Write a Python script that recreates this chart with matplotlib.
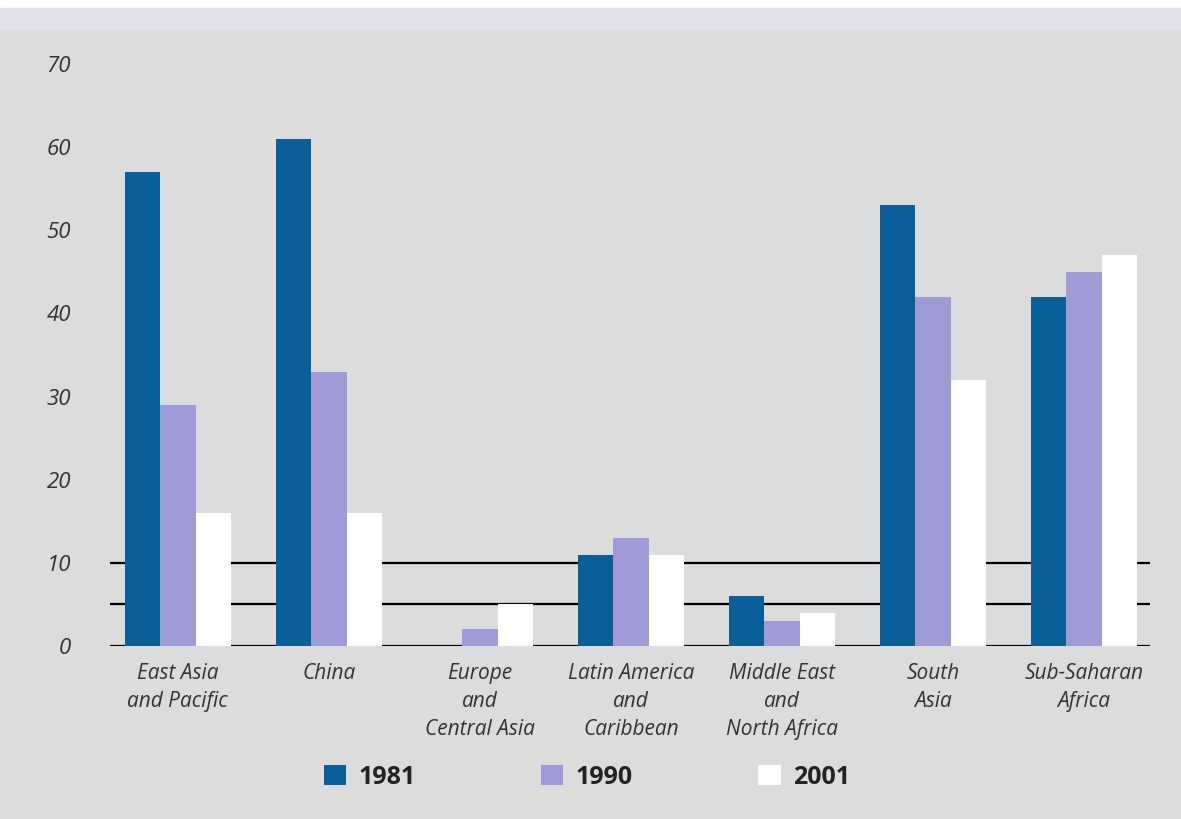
import numpy as np
import matplotlib
matplotlib.use('Agg')
from matplotlib import pyplot as plt
from matplotlib.patches import Patch

# regions and share of population (%) per year
regions = ['East Asia\nand Pacific', 'China', 'Europe\nand\nCentral Asia',
           'Latin America\nand\nCaribbean', 'Middle East\nand\nNorth Africa',
           'South\nAsia', 'Sub-Saharan\nAfrica']
years = ['1981', '1990', '2001']
v1981 = [57, 61, 0, 11, 6, 53, 42]
v1990 = [29, 33, 2, 13, 3, 42, 45]
v2001 = [16, 16, 5, 11, 4, 32, 47]
yticks = [0, 10, 20, 30, 40, 50, 60, 70]
ref_lines = [0, 5, 10]

colors = ['#0b5f98', '#9e9bd6', '#ffffff']
bg = '#dcdcdc'

plt.rcParams['font.family'] = ['Open Sans', 'DejaVu Sans']

fig = plt.figure(figsize=(11.81, 8.19), dpi=100, facecolor=bg)
ax = fig.add_axes([0.093, 0.2112, 0.881, 0.7107])
ax.set_facecolor(bg)

x = np.arange(len(regions))
w = 0.235
for i, vals in enumerate([v1981, v1990, v2001]):
    ax.bar(x + (i - 1) * w, vals, width=w, color=colors[i], zorder=3,
           edgecolor='none')

for r in ref_lines:
    ax.axhline(r, color='black', lw=1.6, zorder=1)

ax.set_xlim(-0.45, 6.44)
ax.set_ylim(0, 70)
ax.set_yticks(yticks)
ax.set_yticklabels([str(t) for t in yticks], fontstyle='italic', fontsize=16,
                   color='#333333')
ax.set_xticks(x)
ax.set_xticklabels(regions, fontstyle='italic', fontsize=15, color='#333333',
                   linespacing=1.45)
ax.tick_params(axis='y', length=0, pad=28)
ax.tick_params(axis='x', length=0, pad=12)
for s in ax.spines.values():
    s.set_visible(False)

# white edge and faint strip across the top
fig.patches.append(plt.Rectangle((0, 0.99), 1, 0.01, transform=fig.transFigure,
                                 color='white', zorder=0))
fig.patches.append(plt.Rectangle((0, 0.963), 1, 0.027, transform=fig.transFigure,
                                 color='#e2e2ea', zorder=0))

handles = [Patch(facecolor=c, edgecolor='none') for c in colors]
leg = fig.legend(handles, years, loc='center', bbox_to_anchor=(0.497, 0.051),
                 ncol=3, frameon=False, fontsize=18, handlelength=0.9,
                 handleheight=0.9, handletextpad=0.5, columnspacing=5.0)
for t in leg.get_texts():
    t.set_fontweight('bold')
    t.set_color('#222222')

fig.savefig('out.png', dpi=100, facecolor=bg)
